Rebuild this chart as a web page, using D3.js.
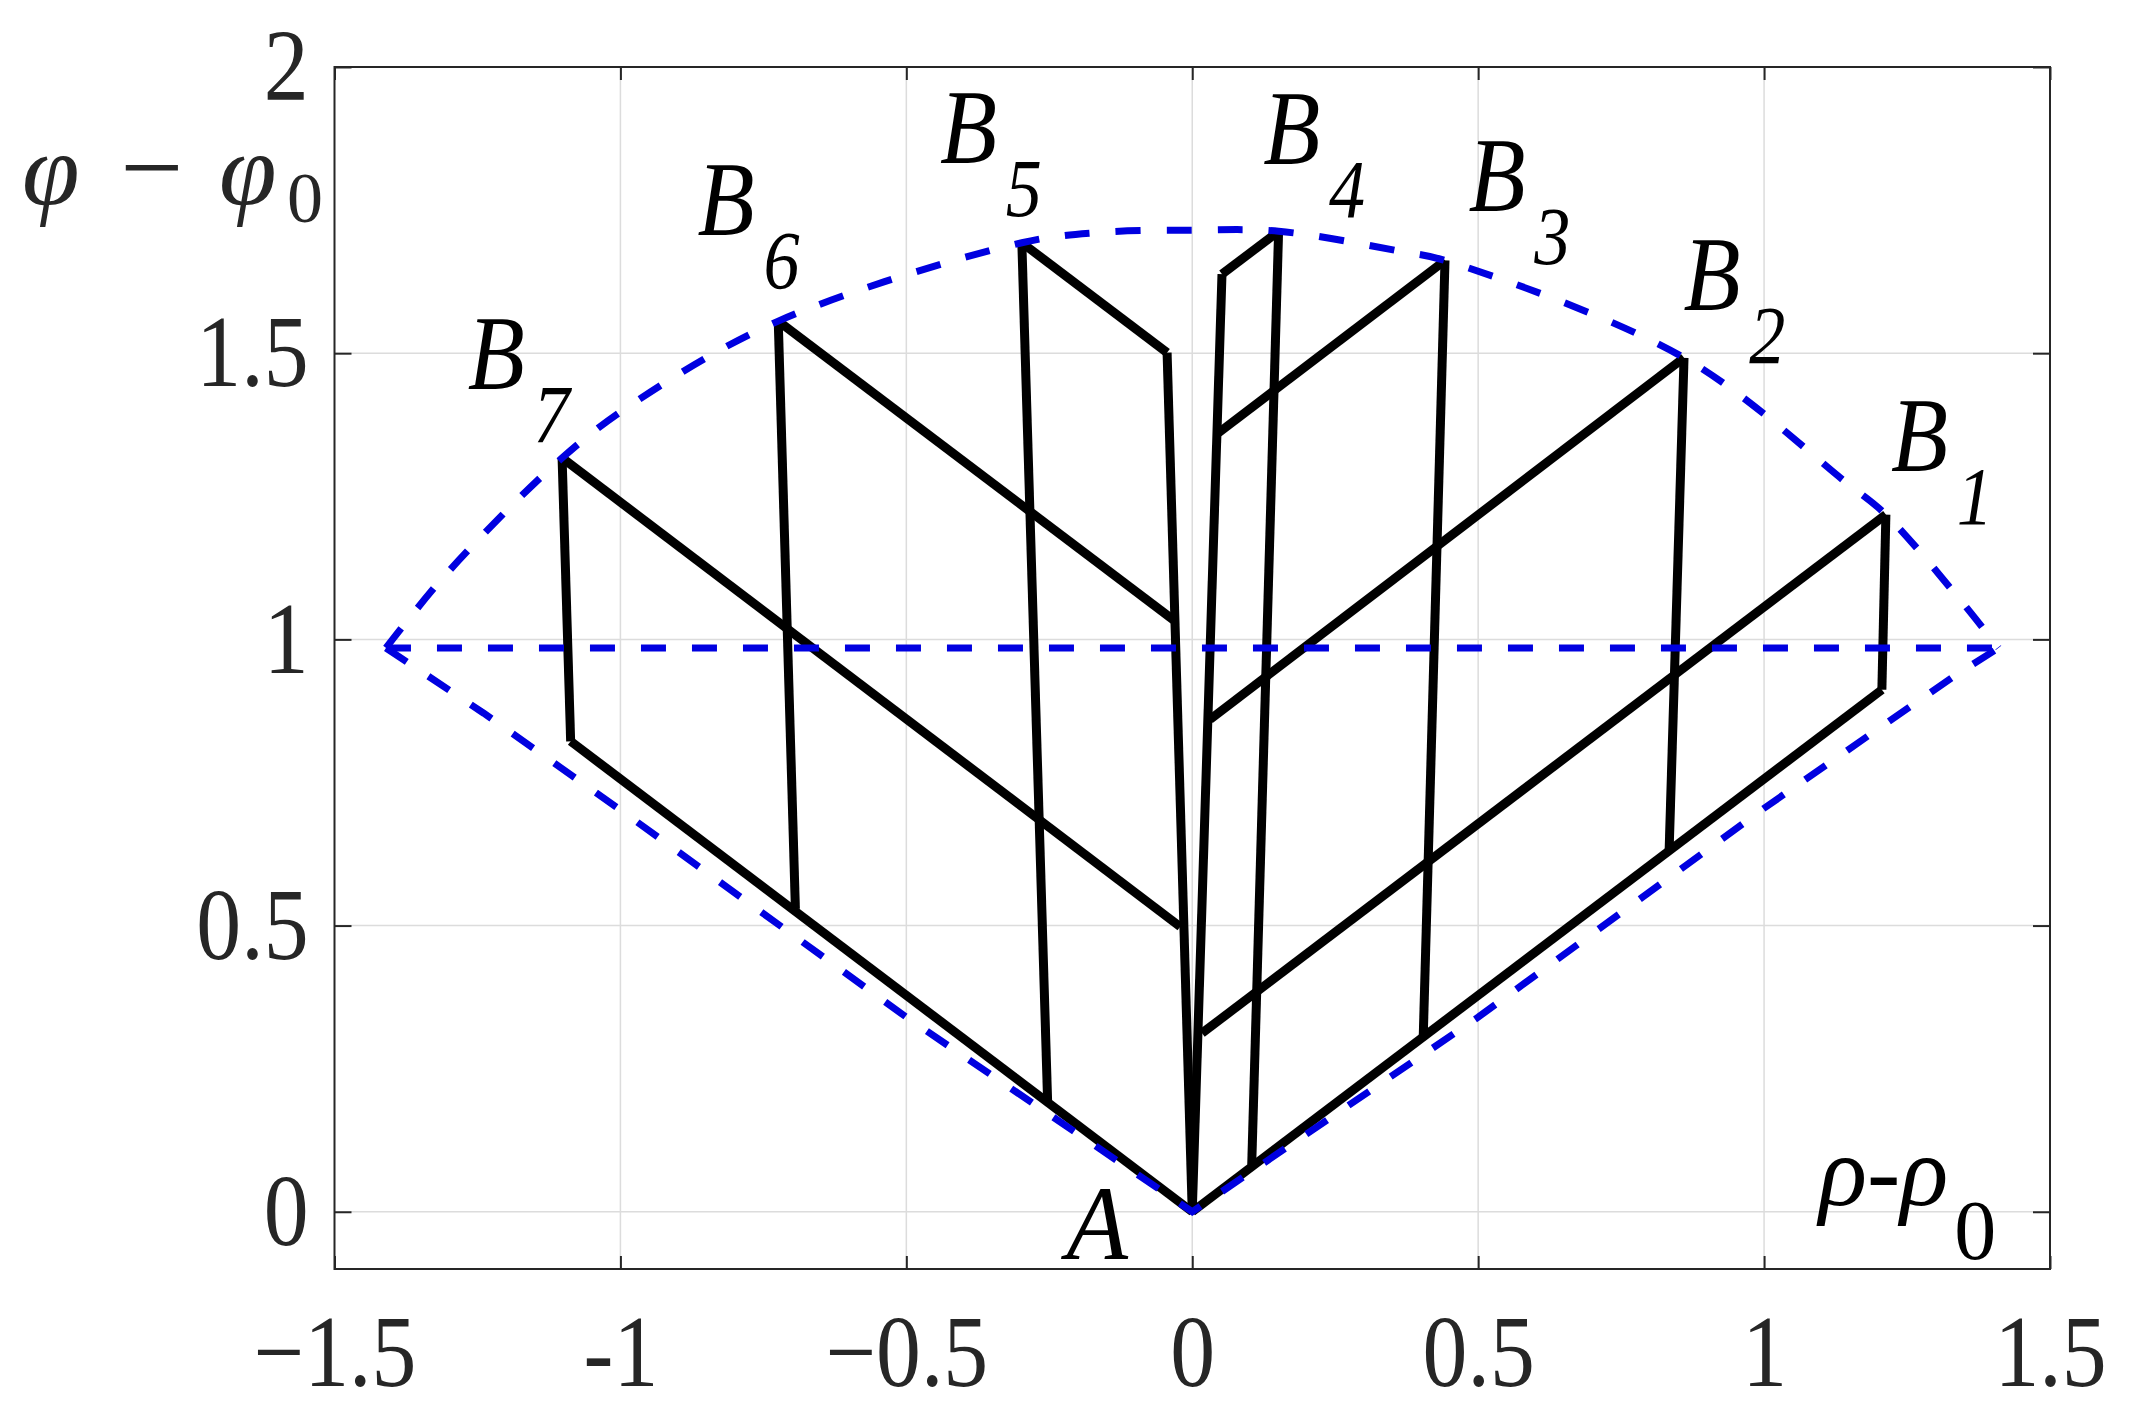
<!DOCTYPE html>
<html>
<head>
<meta charset="utf-8">
<script src="https://cdn.jsdelivr.net/npm/d3@7"></script>
<style>
  body { margin: 0; background: #fff; }
  svg { display: block; }
</style>
</head>
<body>
<svg id="chart"></svg>
<script>
let width = 2135
let height = 1421
let fontFamily = "Liberation Serif"
let squeeze = 0.88   // the reference glyphs are a bit narrower than Liberation Serif

// axis ticks
const xTicks = [-1.5, -1, -0.5, 0, 0.5, 1, 1.5]
const xTickLabels = ['\u22121.5', '-1', '\u22120.5', '0', '0.5', '1', '1.5']
const yTicks = [0, 0.5, 1, 1.5, 2]
const yTickLabels = ['0', '0.5', '1', '1.5', '2']

// B1 ... B7 (top points on the arc)
const bNames = ['1', '2', '3', '4', '5', '6', '7']
const bTops = [[1.213, 1.218], [0.860, 1.492], [0.442, 1.662], [0.151, 1.713],
               [-0.298, 1.693], [-0.724, 1.556], [-1.102, 1.317]]
// where the near-vertical line of each B ends (on the lower line)
const bLower = [[1.206, 0.912], [0.834, 0.633], [0.404, 0.308], [0.104, 0.082],
                [-0.253, 0.195], [-0.694, 0.529], [-1.087, 0.822]]
// where the diagonal of each B ends (on the central spines)
const bSpine = [[0.017, 0.312], [0.031, 0.860], [0.046, 1.361], [0.052, 1.638],
                [-0.044, 1.501], [-0.033, 1.034], [-0.021, 0.498]]
const pointA = [0, 0]
// label anchors (data units) for B_i
const bLabelX = [1.222, 0.859, 0.483, 0.124, -0.441, -0.865, -1.267]
const bLabelY = [1.295, 1.576, 1.749, 1.830, 1.833, 1.706, 1.437]

// blue dashed boundary
const arcX = [-1.41, -1.303, -1.102, -0.977, -0.724, -0.298, -0.16, 0.0, 0.151, 0.364, 0.442, 0.860, 1.145, 1.213, 1.343, 1.41]
const arcY = [0.985, 1.116, 1.317, 1.413, 1.556, 1.693, 1.711, 1.715, 1.713, 1.678, 1.662, 1.492, 1.273, 1.218, 1.069, 0.985]
const vX = [-1.41, -1.239, -1.0, -0.5, 0, 0.5, 1.0, 1.331, 1.41]
const vY = [0.985, 0.871, 0.702, 0.340, 0, 0.340, 0.705, 0.935, 0.985]
const midX = [-1.41, 1.41]
const midY = [0.985, 0.985]

let svg = d3.select('#chart')
    .attr('width', width)
    .attr('height', height)

svg.append('rect').attr('width', width).attr('height', height).attr('fill', '#fff')

let x = d3.scaleLinear().domain([-1.5, 1.5]).range([334.5, 2050])
let y = d3.scaleLinear().domain([-0.1, 2]).range([1269, 67])
let pw = x.range()[1] - x.range()[0]
let ph = y.range()[0] - y.range()[1]

// grid
let grid = svg.append('g')
grid.selectAll('line.gx')
    .data(xTicks.slice(1, -1))
    .join('line')
    .attr('x1', d => x(d)).attr('x2', d => x(d))
    .attr('y1', y.range()[0]).attr('y2', y.range()[1])
    .attr('stroke', '#dcdcdc').attr('stroke-width', 1.5)
grid.selectAll('line.gy')
    .data(yTicks.slice(0, -1))
    .join('line')
    .attr('y1', d => y(d)).attr('y2', d => y(d))
    .attr('x1', x.range()[0]).attr('x2', x.range()[1])
    .attr('stroke', '#dcdcdc').attr('stroke-width', 1.5)

// black lines
let segs = []
for (let i = 0; i < bTops.length; ++i) {
    segs.push([bTops[i], bLower[i]])
    segs.push([bTops[i], bSpine[i]])
}
segs.push([bLower[0], pointA])   // lower right line
segs.push([bLower[6], pointA])   // lower left line
segs.push([bSpine[3], pointA])   // right spine
segs.push([bSpine[4], pointA])   // left spine

let line = d3.line().x(d => x(d[0])).y(d => y(d[1]))
svg.append('g')
    .selectAll('path')
    .data(segs)
    .join('path')
    .attr('d', d => line(d))
    .attr('fill', 'none')
    .attr('stroke', '#000')
    .attr('stroke-width', 9)
    .attr('stroke-linejoin', 'miter')

// blue dashed
let zip = (a, b) => a.map((v, i) => [v, b[i]])
let smooth = d3.line().x(d => x(d[0])).y(d => y(d[1])).curve(d3.curveCatmullRom)
let blue = svg.append('g')
    .attr('fill', 'none')
    .attr('stroke', '#0000e0')
    .attr('stroke-width', 7)
    .attr('stroke-dasharray', '25,26')
blue.append('path').attr('d', smooth(zip(arcX, arcY)))
blue.append('path').attr('d', line(zip(vX, vY)))
blue.append('path').attr('d', line(zip(midX, midY)))

// axes
let labelColor = '#262626'
let ax = svg.append('g')
ax.append('rect')
    .attr('x', x.range()[0]).attr('y', y.range()[1])
    .attr('width', pw).attr('height', ph)
    .attr('fill', 'none').attr('stroke', labelColor).attr('stroke-width', 2)

ax.append('g')
    .attr('transform', `translate(0,${y.range()[0]})`)
    .call(d3.axisBottom(x).tickValues(xTicks).tickSize(-13).tickPadding(45)
        .tickFormat((d, i) => xTickLabels[i]))
ax.append('g')
    .attr('transform', `translate(0,${y.range()[1]})`)
    .call(d3.axisTop(x).tickValues(xTicks).tickSize(-13).tickFormat(''))
ax.append('g')
    .attr('transform', `translate(${x.range()[0]},0)`)
    .call(d3.axisLeft(y).tickValues(yTicks).tickSize(-17).tickPadding(26 / squeeze)
        .tickFormat((d, i) => yTickLabels[i]))
ax.append('g')
    .attr('transform', `translate(${x.range()[1]},0)`)
    .call(d3.axisRight(y).tickValues(yTicks).tickSize(-17).tickFormat(''))

ax.selectAll('.domain').remove()
ax.selectAll('.tick line').attr('stroke', labelColor).attr('stroke-width', 2)
ax.selectAll('.tick text')
    .attr('fill', labelColor)
    .attr('transform', `scale(${squeeze},1)`)
    .style('font-family', fontFamily)
    .style('font-size', '102px')

// B labels
let lab = svg.append('g')
    .attr('fill', '#000')
bNames.forEach((n, i) => {
    let t = lab.append('text')
        .attr('transform', `translate(${x(bLabelX[i])},${y(bLabelY[i])}) scale(${squeeze},1)`)
        .style('font-family', fontFamily)
        .style('font-style', 'italic')
        .style('font-size', '106px')
    t.append('tspan').text('B')
    t.append('tspan').text(n)
        .attr('dx', 10).attr('dy', 53)
        .style('font-size', '82px')
})

// A
lab.append('text')
    .attr('transform', `translate(${x(-0.220)},${y(-0.083)}) scale(0.95,1)`)
    .style('font-family', fontFamily)
    .style('font-style', 'italic')
    .style('font-size', '106px')
    .text('A')

// x label inside axes
let xl = lab.append('text')
    .attr('x', x(1.096)).attr('y', y(0.012))
    .style('font-family', fontFamily)
    .style('font-style', 'italic')
    .style('font-size', '100px')
xl.append('tspan').text('\u03c1-\u03c1')
xl.append('tspan').text('0')
    .attr('dx', 6).attr('dy', 54)
    .style('font-size', '84px')
    .style('font-style', 'normal')

// y label at top left
let yl = svg.append('g')
    .attr('fill', labelColor)
    .style('font-family', fontFamily)
yl.append('text').attr('x', 22).attr('y', 205)
    .style('font-size', '104px').style('font-style', 'italic').text('\u03c6')
yl.append('text').attr('x', 120).attr('y', 205)
    .style('font-size', '112px').text('\u2212')
yl.append('text').attr('x', 219).attr('y', 205)
    .style('font-size', '104px').style('font-style', 'italic').text('\u03c6')
yl.append('text').attr('x', 287).attr('y', 222)
    .style('font-size', '72px').text('0')
</script>
</body>
</html>
